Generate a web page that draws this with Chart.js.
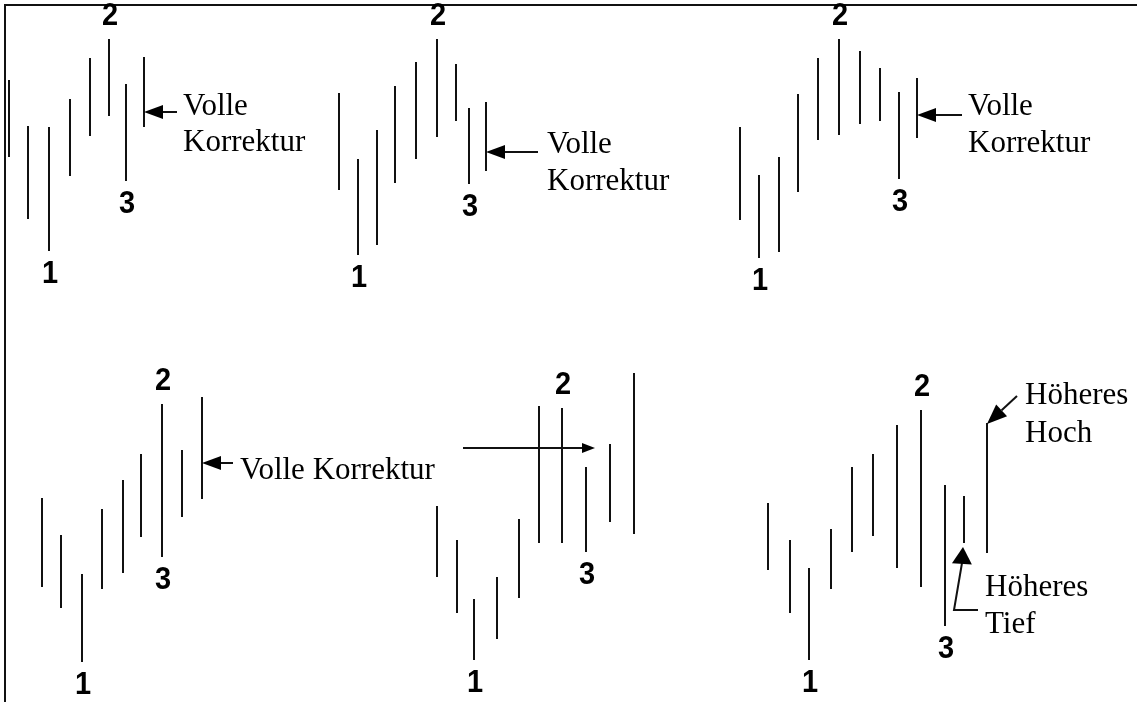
<!DOCTYPE html>
<html>
<head>
<meta charset="utf-8">
<script src="https://cdn.jsdelivr.net/npm/chart.js@4.4.1/dist/chart.umd.min.js"></script>
<style>
  html, body { margin: 0; padding: 0; background: #ffffff; }
  #wrap { width: 1137px; height: 702px; }
</style>
</head>
<body>
<div id="wrap"><canvas id="c" width="1137" height="702"></canvas></div>
<script>
// ---- Data (price units; each panel: bar positions, highs, lows) ----
// Panel 1 (top left)
const p1X    = [9, 28, 49, 70, 90, 109, 126, 144];
const p1High = [622, 576, 575, 603, 644, 663, 618, 645];
const p1Low  = [545, 483, 451, 526, 566, 586, 521, 575];
const p1Pivots = [["1", 2, "low"], ["2", 5, "high"], ["3", 6, "low"]];

// Panel 2 (top middle)
const p2X    = [339, 358, 377, 395, 416, 437, 456, 469, 486];
const p2High = [609, 543, 572, 616, 640, 663, 638, 594, 600];
const p2Low  = [512, 447, 457, 519, 543, 565, 581, 518, 531];
const p2Pivots = [["1", 1, "low"], ["2", 5, "high"], ["3", 7, "low"]];

// Panel 3 (top right)
const p3X    = [740, 759, 779, 798, 818, 839, 860, 880, 899, 917];
const p3High = [575, 527, 545, 608, 644, 663, 651, 634, 610, 624];
const p3Low  = [482, 444, 450, 510, 562, 567, 578, 581, 523, 564];
const p3Pivots = [["1", 1, "low"], ["2", 5, "high"], ["3", 8, "low"]];

// Panel 4 (bottom left)
const p4X    = [42, 61, 82, 102, 123, 141, 162, 182, 202];
const p4High = [204, 167, 128, 193, 222, 248, 298, 252, 305];
const p4Low  = [115, 94, 40, 113, 129, 165, 145, 185, 203];
const p4Pivots = [["1", 2, "low"], ["2", 6, "high"], ["3", 6, "low"]];

// Panel 5 (bottom middle)
const p5X    = [437, 457, 474, 497, 519, 539, 562, 586, 610, 634];
const p5High = [196, 162, 103, 125, 183, 296, 294, 235, 258, 329];
const p5Low  = [125, 89, 42, 63, 104, 159, 159, 150, 180, 168];
const p5Pivots = [["1", 2, "low"], ["2", 6, "high"], ["3", 7, "low"]];

// Panel 6 (bottom right)
const p6X    = [768, 790, 809, 831, 852, 873, 897, 921, 945, 964, 987];
const p6High = [199, 162, 134, 173, 235, 248, 277, 292, 217, 206, 279];
const p6Low  = [132, 89, 42, 113, 150, 166, 134, 115, 76, 159, 149];
const p6Pivots = [["1", 2, "low"], ["2", 7, "high"], ["3", 8, "low"]];

// Annotation texts
const noteTexts = [
  ["Volle", 183, 587], ["Korrektur", 183, 551],
  ["Volle", 547, 549], ["Korrektur", 547, 512],
  ["Volle", 968, 587], ["Korrektur", 968, 550],
  ["Volle Korrektur", 240, 223],
  ["Höheres", 1025, 298], ["Hoch", 1025, 260],
  ["Höheres", 985, 106], ["Tief", 985, 69]
];
// Arrows: [path points from tail ... to tip], head length, head half width
const noteArrows = [
  [[[177, 590], [144, 590]], 19, 7],
  [[[538, 550], [486, 550]], 19, 7],
  [[[962, 587], [917, 587]], 19, 7],
  [[[233, 239], [202, 239]], 19, 7],
  [[[463, 254], [595, 254]], 13, 5],
  [[[1017, 306], [987, 278]], 20, 8],
  [[[978, 92], [954, 92], [962, 139], [963, 155]], 17, 10]
];

// ---- Build datasets ----
const panels = [
  { x: p1X, high: p1High, low: p1Low, pivots: p1Pivots },
  { x: p2X, high: p2High, low: p2Low, pivots: p2Pivots },
  { x: p3X, high: p3High, low: p3Low, pivots: p3Pivots },
  { x: p4X, high: p4High, low: p4Low, pivots: p4Pivots },
  { x: p5X, high: p5High, low: p5Low, pivots: p5Pivots },
  { x: p6X, high: p6High, low: p6Low, pivots: p6Pivots }
];

const datasets = panels.map(p => {
  const pts = [];
  p.x.forEach((xv, i) => {
    pts.push({ x: xv, y: p.high[i] });
    pts.push({ x: xv, y: p.low[i] });
    pts.push({ x: xv, y: null });
  });
  return {
    data: pts,
    showLine: true,
    spanGaps: false,
    borderColor: '#111111',
    borderWidth: 2,
    pointRadius: 0,
    pointHoverRadius: 0
  };
});

const decorPlugin = {
  id: 'decor',
  afterDatasetsDraw(chart) {
    const ctx = chart.ctx;
    const xs = chart.scales.x, ys = chart.scales.y;
    const px = v => xs.getPixelForValue(v);
    const py = v => ys.getPixelForValue(v);
    ctx.save();
    // frame (top and left)
    ctx.strokeStyle = '#111111';
    ctx.lineWidth = 2;
    ctx.beginPath();
    ctx.moveTo(px(5), py(0));
    ctx.lineTo(px(5), py(697));
    ctx.lineTo(px(1137), py(697));
    ctx.stroke();

    // pivot labels
    ctx.fillStyle = '#000000';
    ctx.font = 'bold 29px "Liberation Sans", Arial, sans-serif';
    ctx.textAlign = 'center';
    ctx.textBaseline = 'middle';
    panels.forEach(p => {
      p.pivots.forEach(([t, idx, side]) => {
        const x = px(p.x[idx]) + 1;
        const y = side === 'high' ? py(p.high[idx]) - 23 : py(p.low[idx]) + 23;
        ctx.save();
        ctx.translate(x, y);
        ctx.scale(1.0, 1.1);
        ctx.fillText(t, 0, 0);
        ctx.restore();
      });
    });

    // notes
    ctx.font = '31px "Liberation Serif", "Times New Roman", serif';
    ctx.textAlign = 'left';
    ctx.textBaseline = 'alphabetic';
    noteTexts.forEach(([t, x, y]) => ctx.fillText(t, px(x), py(y)));

    // arrows
    ctx.lineWidth = 2;
    noteArrows.forEach(([path, hl, hw]) => {
      const pts = path.map(([x, y]) => [px(x), py(y)]);
      const n = pts.length;
      const [tx, ty] = pts[n - 1];
      const [sx, sy] = pts[n - 2];
      const d = Math.hypot(tx - sx, ty - sy);
      const ux = (tx - sx) / d, uy = (ty - sy) / d;
      const bx = tx - ux * hl, by = ty - uy * hl;
      ctx.beginPath();
      ctx.moveTo(pts[0][0], pts[0][1]);
      for (let i = 1; i < n - 1; i++) ctx.lineTo(pts[i][0], pts[i][1]);
      ctx.lineTo(bx, by);
      ctx.stroke();
      ctx.beginPath();
      ctx.moveTo(tx, ty);
      ctx.lineTo(bx - uy * hw, by + ux * hw);
      ctx.lineTo(bx + uy * hw, by - ux * hw);
      ctx.closePath();
      ctx.fill();
    });
    ctx.restore();
  }
};

new Chart(document.getElementById('c'), {
  type: 'scatter',
  data: { datasets },
  options: {
    responsive: false,
    animation: false,
    events: [],
    layout: { padding: 0 },
    scales: {
      x: { type: 'linear', min: 0, max: 1137, display: false },
      y: { type: 'linear', min: 0, max: 702, display: false }
    },
    plugins: {
      legend: { display: false },
      tooltip: { enabled: false }
    }
  },
  plugins: [decorPlugin]
});
</script>
</body>
</html>
